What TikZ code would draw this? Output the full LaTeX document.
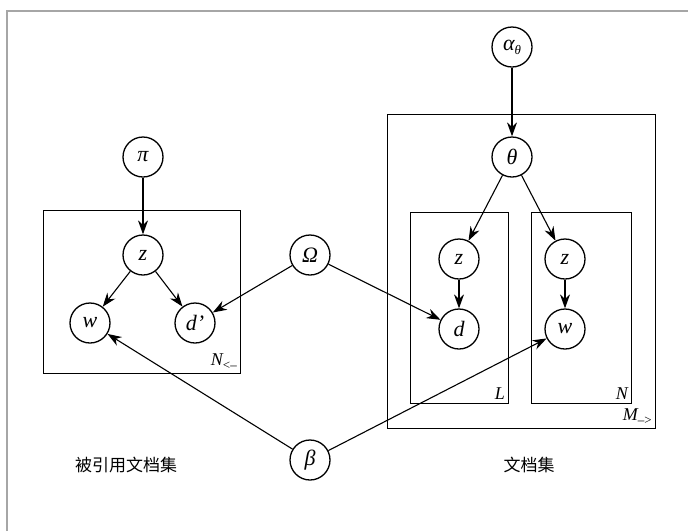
\documentclass[tikz,border=0pt]{standalone}
\usepackage{fontspec}
\setmainfont{Liberation Serif}
\newfontfamily\cjk{Noto Sans CJK SC}
\usetikzlibrary{arrows.meta}
\newcommand{\subtx}[1]{\raisebox{-4pt}{\fontsize{13}{13}\selectfont #1}}
\begin{document}
\begin{tikzpicture}[x=1pt,y=-1pt,
  var/.style={circle,draw,line width=1.3pt,minimum size=40pt,inner sep=0pt,font=\fontsize{22}{22}\selectfont\itshape},
  plate/.style={draw,line width=1pt},
  edge/.style={line width=1.1pt,-{Stealth[length=14pt,width=10pt]}},
  platelabel/.style={font=\fontsize{18}{18}\selectfont\itshape,anchor=south east,inner sep=3pt}]
\useasboundingbox (0,0) rectangle (688,531);
\draw[gray!70,line width=1.5pt] (7,531) -- (7,11) -- (688,11);
% plates
\draw[plate] (43,210) rectangle (240,373);
\node[platelabel] (lN1) at (240,373) {N\subtx{\upshape <–}};
\draw[plate] (387,114) rectangle (655,428);
\node[platelabel] (lM) at (655,428) {M\subtx{\upshape –>}};
\draw[plate] (410,212) rectangle (508,403);
\node[platelabel] (lL) at (508,403) {L};
\draw[plate] (531,212) rectangle (631,403);
\node[platelabel] (lN) at (631,403) {N};
% nodes
\node[var] (pi) at (143,157) {π};
\node[var] (z1) at (143,255) {z};
\node[var] (w1) at (90,323) {w};
\node[var] (d1) at (195,323) {d’};
\node[var] (om) at (310,255) {Ω};
\node[var] (al) at (512,47) {α\subtx{\itshape θ}};
\node[var] (th) at (512,157) {θ};
\node[var] (z2) at (459,259) {z};
\node[var] (d2) at (459,329) {d};
\node[var] (z3) at (565,259) {z};
\node[var] (w3) at (565,329) {w};
\node[var] (be) at (310,460) {β};
\node[font=\cjk\fontsize{17}{17}\selectfont] (t1) at (126,465) {被引用文档集};
\node[font=\cjk\fontsize{17}{17}\selectfont] (t2) at (529,465) {文档集};
% edges
\draw[edge] (pi) -- (z1);
\draw[edge] (z1) -- (w1);
\draw[edge] (z1) -- (d1);
\draw[edge] (om) -- (d1);
\draw[edge] (om) -- (d2);
\draw[edge] (al) -- (th);
\draw[edge] (th) -- (z2);
\draw[edge] (th) -- (z3);
\draw[edge] (z2) -- (d2);
\draw[edge] (z3) -- (w3);
\draw[edge] (be) -- (w1);
\draw[edge] (be) -- (w3);
\end{tikzpicture}
\end{document}
